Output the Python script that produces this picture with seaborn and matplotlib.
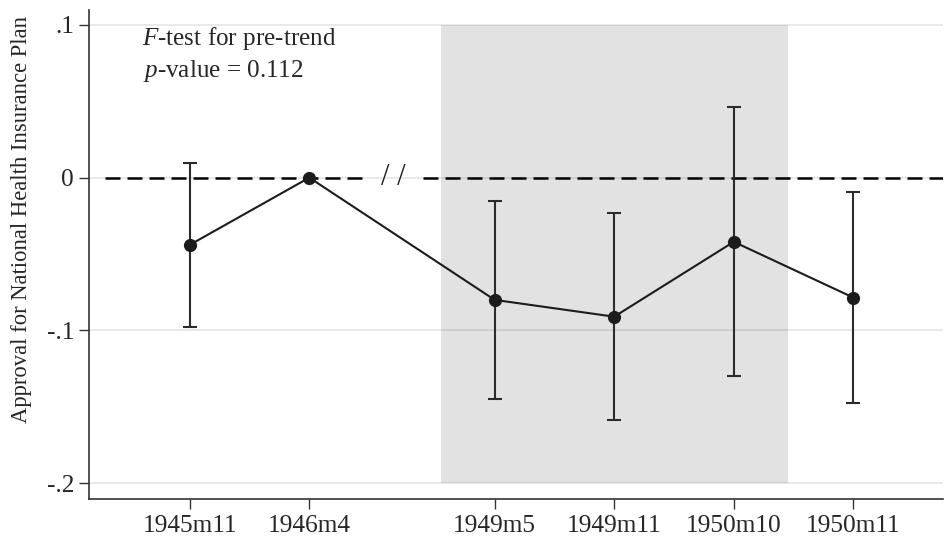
import numpy as np
import pandas as pd
import matplotlib
matplotlib.use("Agg")
import matplotlib.pyplot as plt
import seaborn as sns

# Survey waves and their event-study estimates
periods = ["1945m11", "1946m4", "1949m5", "1949m11", "1950m10", "1950m11"]
xpos = [1, 2, 3.55, 4.55, 5.55, 6.55]
coef = [-0.044, 0.0, -0.080, -0.091, -0.042, -0.0785]
ci_low = [-0.0975, np.nan, -0.145, -0.1585, -0.130, -0.1475]
ci_high = [0.0095, np.nan, -0.015, -0.023, 0.0465, -0.0095]
y_ticks = [0.1, 0.0, -0.1, -0.2]
y_tick_labels = [".1", "0", "-.1", "-.2"]

df = pd.DataFrame({"period": periods, "x": xpos, "coef": coef,
                   "lo": ci_low, "hi": ci_high})

sns.set_theme(style="white")
plt.rcParams["font.family"] = ["Liberation Serif", "DejaVu Serif"]
plt.rcParams["mathtext.fontset"] = "custom"
plt.rcParams["mathtext.rm"] = "Liberation Serif"
plt.rcParams["mathtext.it"] = "Liberation Serif:italic"

W, H = 945, 537
fig = plt.figure(figsize=(W / 100, H / 100), dpi=100)
ax = fig.add_axes([0.0945, 0.0702, 0.9034, 0.9112])

ink = "#1c1c1c"

# treatment window shading
ax.fill_between([3.10, 6.0], -0.2, 0.1, color="#e2e2e2", lw=0, zorder=0)

# horizontal grid
for yt in y_ticks:
    ax.axhline(yt, color="black", alpha=0.09, lw=1.4, zorder=1)

# zero reference line with a break marker between the two periods
dash = (0, (6, 2.8))
ax.hlines(0, 0.29, 2.50, colors="black", linestyles=[dash], lw=1.8, zorder=2)
ax.hlines(0, 2.95, 7.30, colors="black", linestyles=[dash], lw=1.8, zorder=2)
ax.text(2.70, 0.0, "/ /", ha="center", va="center", fontsize=22, color=ink, zorder=3)

# confidence intervals
ax.errorbar(df["x"], df["coef"],
            yerr=[df["coef"] - df["lo"], df["hi"] - df["coef"]],
            fmt="none", ecolor="#2b2b2b", elinewidth=1.5, capsize=4.8,
            capthick=1.5, zorder=3)

# point estimates
sns.lineplot(data=df, x="x", y="coef", ax=ax, color=ink, lw=1.5,
             marker="o", markersize=9.5, markeredgewidth=0,
             markerfacecolor=ink, zorder=4)

ax.set_xlim(0.16, 7.30)
ax.set_ylim(-0.2105, 0.1097)
ax.set_xticks(xpos)
ax.set_xticklabels(periods)
ax.set_yticks(y_ticks)
ax.set_yticklabels(y_tick_labels)
ax.set_xlabel("")
ax.set_ylabel("")

ax.tick_params(axis="both", which="major", labelsize=18.3, length=7, width=1.0,
               color="#333333", direction="out", left=True, bottom=True)
ax.tick_params(axis="y", pad=4)
ax.tick_params(axis="x", pad=4.5)

for side in ["top", "right"]:
    ax.spines[side].set_visible(False)
for side in ["left", "bottom"]:
    ax.spines[side].set_color("#333333")
    ax.spines[side].set_linewidth(1.2)

fig.text(21.5 / W, 1 - 219.5 / H, "Approval for National Health Insurance Plan",
         rotation=90, ha="center", va="center", fontsize=16.3)

ax.text(0.60, 0.0868, r"$F$-test for pre-trend", fontsize=18.1, ha="left", va="baseline")
ax.text(0.612, 0.0661, r"$p$-value = 0.112", fontsize=18.1, ha="left", va="baseline")

fig.savefig("out.png", dpi=100)
